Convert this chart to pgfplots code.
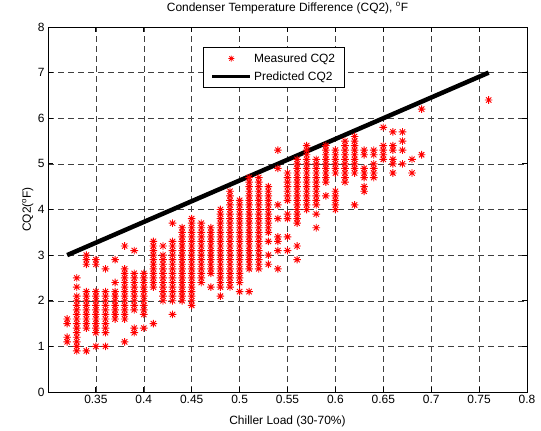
\documentclass[border=0pt]{standalone}
\usepackage{fontspec}
\setmainfont{Liberation Sans}
\usepackage{pgfplots}
\pgfplotsset{compat=1.18}

% MATLAB-like '*' marker: a plus and a cross on top of each other
\pgfdeclareplotmark{mstar}{%
  \pgfpathmoveto{\pgfpoint{-\pgfplotmarksize}{0pt}}%
  \pgfpathlineto{\pgfpoint{\pgfplotmarksize}{0pt}}%
  \pgfpathmoveto{\pgfpoint{0pt}{-\pgfplotmarksize}}%
  \pgfpathlineto{\pgfpoint{0pt}{\pgfplotmarksize}}%
  \pgfpathmoveto{\pgfpoint{-0.7\pgfplotmarksize}{-0.7\pgfplotmarksize}}%
  \pgfpathlineto{\pgfpoint{0.7\pgfplotmarksize}{0.7\pgfplotmarksize}}%
  \pgfpathmoveto{\pgfpoint{-0.7\pgfplotmarksize}{0.7\pgfplotmarksize}}%
  \pgfpathlineto{\pgfpoint{0.7\pgfplotmarksize}{-0.7\pgfplotmarksize}}%
  \pgfusepathqstroke}

\pgfplotsset{
  markleg/.style={legend image code/.code={%
      \draw[##1, mark size=3bp, line width=0.7bp] plot coordinates {(19bp,0bp)};\path (0bp,0bp) (38bp,0bp);}},
  lineleg/.style={legend image code/.code={%
      \draw[##1, line width=3.5bp] (0bp,0bp) -- (38bp,0bp);}},
}

\begin{document}
\begin{tikzpicture}
\path[use as bounding box] (-48bp,-39bp) rectangle (493bp,392bp);
\begin{axis}[
    scale only axis,
    width=479bp, height=365bp,
    xmin=0.3, xmax=0.8, ymin=0, ymax=8,
    xtick={0.35,0.4,0.45,0.5,0.55,0.6,0.65,0.7,0.75,0.8},
    xticklabels={0.35,0.4,0.45,0.5,0.55,0.6,0.65,0.7,0.75,0.8},
    ytick={0,1,...,8},
    /pgf/number format/assume math mode=true,
    tick label style={font=\fontsize{12}{14}\selectfont},
    label style={font=\fontsize{12}{14}\selectfont},
    tick align=inside,
    major tick length=5bp,
    axis line style={line width=0.8bp},
    every tick/.style={black, line width=0.8bp},
    grid=major,
    major grid style={black!75, line width=0.5bp, dash pattern=on 6bp off 4bp},
    title={Condenser Temperature Difference (CQ2), \textsuperscript{o}F},
    title style={font=\fontsize{12}{14}\selectfont, at={(0.5,1)}, anchor=base, yshift=10bp},
    xlabel={Chiller Load (30-70\%)},
    xlabel style={at={(0.5,0)}, anchor=base, yshift=-32bp},
    ylabel={CQ2(\textsuperscript{o}F)},
    ylabel style={at={(axis description cs:-0.036,0.5)}, anchor=base},
    legend style={at={(rel axis cs:0.324,0.945)}, anchor=north west,
        draw=black, line width=0.8bp, font=\fontsize{12}{14}\selectfont,
        inner xsep=7bp, inner ysep=4bp, row sep=4bp,
        /tikz/every even column/.append style={column sep=2bp}},
    legend cell align=left,
]
\addplot[only marks, mark=mstar, mark size=3.8bp, red, line width=0.9bp, markleg]
coordinates {
(0.32,1.1)(0.32,1.2)(0.32,1.5)(0.32,1.6)
(0.33,0.9)(0.33,1.0)(0.33,1.1)(0.33,1.2)(0.33,1.3)(0.33,1.4)(0.33,1.5)(0.33,1.6)(0.33,1.7)(0.33,1.8)(0.33,1.9)(0.33,2.0)(0.33,2.1)(0.33,2.3)(0.33,2.5)
(0.34,0.9)(0.34,1.4)(0.34,1.5)(0.34,1.6)(0.34,1.7)(0.34,1.8)(0.34,1.9)(0.34,2.0)(0.34,2.1)(0.34,2.2)(0.34,2.8)(0.34,2.9)(0.34,3.0)
(0.35,1.0)(0.35,1.3)(0.35,1.4)(0.35,1.5)(0.35,1.6)(0.35,1.7)(0.35,1.8)(0.35,1.9)(0.35,2.0)(0.35,2.1)(0.35,2.2)(0.35,2.8)(0.35,2.9)
(0.36,1.0)(0.36,1.3)(0.36,1.4)(0.36,1.5)(0.36,1.6)(0.36,1.7)(0.36,1.8)(0.36,1.9)(0.36,2.0)(0.36,2.1)(0.36,2.2)(0.36,2.7)
(0.37,1.6)(0.37,1.7)(0.37,1.8)(0.37,1.9)(0.37,2.0)(0.37,2.1)(0.37,2.2)(0.37,2.4)(0.37,2.9)
(0.38,1.1)(0.38,1.6)(0.38,1.7)(0.38,1.8)(0.38,1.9)(0.38,2.0)(0.38,2.1)(0.38,2.2)(0.38,2.3)(0.38,2.4)(0.38,2.5)(0.38,2.6)(0.38,2.7)(0.38,3.2)
(0.39,1.3)(0.39,1.4)(0.39,1.8)(0.39,1.9)(0.39,2.0)(0.39,2.1)(0.39,2.2)(0.39,2.3)(0.39,2.4)(0.39,2.5)(0.39,2.6)(0.39,3.1)
(0.40,1.4)(0.40,1.7)(0.40,1.8)(0.40,1.9)(0.40,2.0)(0.40,2.1)(0.40,2.2)(0.40,2.3)(0.40,2.4)(0.40,2.5)(0.40,2.6)
(0.41,1.5)(0.41,2.3)(0.41,2.4)(0.41,2.5)(0.41,2.6)(0.41,2.7)(0.41,2.8)(0.41,2.9)(0.41,3.0)(0.41,3.1)(0.41,3.2)(0.41,3.3)
(0.42,2.0)(0.42,2.1)(0.42,2.2)(0.42,2.3)(0.42,2.4)(0.42,2.5)(0.42,2.6)(0.42,2.7)(0.42,2.8)(0.42,2.9)(0.42,3.0)(0.42,3.2)
(0.43,1.7)(0.43,2.0)(0.43,2.1)(0.43,2.2)(0.43,2.3)(0.43,2.4)(0.43,2.5)(0.43,2.6)(0.43,2.7)(0.43,2.8)(0.43,2.9)(0.43,3.0)(0.43,3.1)(0.43,3.2)(0.43,3.3)(0.43,3.7)
(0.44,2.0)(0.44,2.1)(0.44,2.2)(0.44,2.3)(0.44,2.4)(0.44,2.5)(0.44,2.6)(0.44,2.7)(0.44,2.8)(0.44,2.9)(0.44,3.0)(0.44,3.1)(0.44,3.2)(0.44,3.3)(0.44,3.4)(0.44,3.5)(0.44,3.6)
(0.45,1.9)(0.45,2.0)(0.45,2.1)(0.45,2.2)(0.45,2.3)(0.45,2.4)(0.45,2.5)(0.45,2.6)(0.45,2.7)(0.45,2.8)(0.45,2.9)(0.45,3.0)(0.45,3.1)(0.45,3.2)(0.45,3.3)(0.45,3.4)(0.45,3.5)(0.45,3.6)(0.45,3.7)(0.45,3.8)
(0.46,2.4)(0.46,2.5)(0.46,2.6)(0.46,2.7)(0.46,2.8)(0.46,2.9)(0.46,3.0)(0.46,3.1)(0.46,3.2)(0.46,3.3)(0.46,3.4)(0.46,3.5)(0.46,3.6)(0.46,3.7)
(0.47,2.3)(0.47,2.6)(0.47,2.7)(0.47,2.8)(0.47,2.9)(0.47,3.0)(0.47,3.1)(0.47,3.2)(0.47,3.3)(0.47,3.4)(0.47,3.5)(0.47,3.6)
(0.48,2.1)(0.48,2.3)(0.48,2.4)(0.48,2.5)(0.48,2.6)(0.48,2.7)(0.48,2.8)(0.48,2.9)(0.48,3.0)(0.48,3.1)(0.48,3.2)(0.48,3.3)(0.48,3.4)(0.48,3.5)(0.48,3.6)(0.48,3.7)(0.48,3.8)(0.48,3.9)(0.48,4.0)
(0.49,2.3)(0.49,2.4)(0.49,2.5)(0.49,2.6)(0.49,2.7)(0.49,2.8)(0.49,2.9)(0.49,3.0)(0.49,3.1)(0.49,3.2)(0.49,3.3)(0.49,3.4)(0.49,3.5)(0.49,3.6)(0.49,3.7)(0.49,3.8)(0.49,3.9)(0.49,4.0)(0.49,4.1)(0.49,4.2)(0.49,4.3)(0.49,4.4)
(0.50,2.2)(0.50,2.4)(0.50,2.5)(0.50,2.6)(0.50,2.7)(0.50,2.8)(0.50,2.9)(0.50,3.0)(0.50,3.1)(0.50,3.2)(0.50,3.3)(0.50,3.4)(0.50,3.5)(0.50,3.6)(0.50,3.7)(0.50,3.8)(0.50,3.9)(0.50,4.0)(0.50,4.1)(0.50,4.2)
(0.51,2.2)(0.51,2.7)(0.51,2.8)(0.51,2.9)(0.51,3.0)(0.51,3.1)(0.51,3.2)(0.51,3.3)(0.51,3.4)(0.51,3.5)(0.51,3.6)(0.51,3.7)(0.51,3.8)(0.51,3.9)(0.51,4.0)(0.51,4.1)(0.51,4.2)(0.51,4.3)(0.51,4.4)(0.51,4.5)(0.51,4.6)(0.51,4.7)
(0.52,2.7)(0.52,2.8)(0.52,2.9)(0.52,3.0)(0.52,3.1)(0.52,3.2)(0.52,3.3)(0.52,3.4)(0.52,3.5)(0.52,3.6)(0.52,3.7)(0.52,3.8)(0.52,3.9)(0.52,4.0)(0.52,4.1)(0.52,4.2)(0.52,4.3)(0.52,4.4)(0.52,4.5)(0.52,4.6)(0.52,4.7)
(0.53,2.8)(0.53,3.0)(0.53,3.3)(0.53,3.5)(0.53,3.6)(0.53,3.7)(0.53,3.8)(0.53,3.9)(0.53,4.0)(0.53,4.1)(0.53,4.2)(0.53,4.3)(0.53,4.4)(0.53,4.5)
(0.54,2.7)(0.54,3.1)(0.54,3.3)(0.54,3.4)(0.54,3.8)(0.54,4.1)(0.54,4.9)(0.54,5.3)
(0.55,3.1)(0.55,3.4)(0.55,3.8)(0.55,3.9)(0.55,4.2)(0.55,4.3)(0.55,4.4)(0.55,4.5)(0.55,4.6)(0.55,4.7)(0.55,4.8)
(0.56,2.9)(0.56,3.2)(0.56,3.7)(0.56,3.8)(0.56,3.9)(0.56,4.0)(0.56,4.1)(0.56,4.2)(0.56,4.3)(0.56,4.4)(0.56,4.5)(0.56,4.6)(0.56,4.7)(0.56,4.8)(0.56,4.9)(0.56,5.0)(0.56,5.1)
(0.57,4.0)(0.57,4.1)(0.57,4.2)(0.57,4.3)(0.57,4.4)(0.57,4.5)(0.57,4.6)(0.57,4.7)(0.57,4.8)(0.57,4.9)(0.57,5.0)(0.57,5.1)(0.57,5.2)(0.57,5.3)(0.57,5.4)
(0.58,3.6)(0.58,3.9)(0.58,4.1)(0.58,4.2)(0.58,4.3)(0.58,4.4)(0.58,4.5)(0.58,4.6)(0.58,4.7)(0.58,4.8)(0.58,4.9)(0.58,5.0)(0.58,5.1)
(0.59,4.3)(0.59,4.6)(0.59,4.7)(0.59,4.8)(0.59,4.9)(0.59,5.0)(0.59,5.1)(0.59,5.2)(0.59,5.3)(0.59,5.4)
(0.60,4.0)(0.60,4.1)(0.60,4.2)(0.60,4.3)(0.60,4.4)(0.60,4.8)(0.60,4.9)(0.60,5.0)(0.60,5.1)(0.60,5.2)(0.60,5.3)
(0.61,4.6)(0.61,4.7)(0.61,4.8)(0.61,4.9)(0.61,5.0)(0.61,5.1)(0.61,5.2)(0.61,5.3)(0.61,5.4)(0.61,5.5)
(0.62,4.1)(0.62,4.8)(0.62,4.9)(0.62,5.0)(0.62,5.1)(0.62,5.2)(0.62,5.3)(0.62,5.4)(0.62,5.5)(0.62,5.6)
(0.63,4.4)(0.63,4.5)(0.63,4.7)(0.63,4.8)(0.63,4.9)(0.63,5.2)(0.63,5.3)
(0.64,4.7)(0.64,4.8)(0.64,4.9)(0.64,5.0)(0.64,5.2)(0.64,5.3)
(0.65,5.1)(0.65,5.2)(0.65,5.3)(0.65,5.4)(0.65,5.8)
(0.66,4.8)(0.66,5.0)(0.66,5.1)(0.66,5.3)(0.66,5.4)(0.66,5.7)
(0.67,5.0)(0.67,5.3)(0.67,5.5)(0.67,5.7)
(0.68,4.8)(0.68,5.1)
(0.69,5.2)(0.69,6.2)
(0.76,6.4)
};
\addlegendentry{Measured CQ2}
\addplot[black, line width=4.5bp, lineleg]
coordinates {(0.32,3.0) (0.76,7.0)};
\addlegendentry{Predicted CQ2}
\end{axis}
\end{tikzpicture}
\end{document}
